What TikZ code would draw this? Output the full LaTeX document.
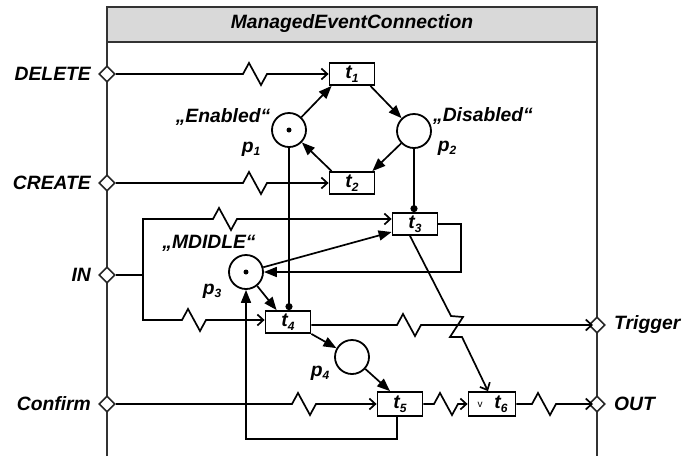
\documentclass[tikz,border=0pt]{standalone}
\usepackage{fontspec}
\setmainfont{Liberation Sans}
\usetikzlibrary{shapes.geometric,arrows.meta}
\newcommand\sbs[1]{\raisebox{-0.35ex}{\fontsize{12}{12}\selectfont #1}}
\def\zz{-- ++(6,-11) -- ++(12,22) -- ++(6,-11)}
\tikzset{
  lbl/.style={font=\bfseries\itshape\fontsize{19.3}{21}\selectfont, inner sep=0pt},
  port/.style={diamond, draw=black!85, fill=white, inner sep=0pt, minimum size=16pt, line width=1.6pt},
  trans/.style={rectangle, draw, fill=white, minimum width=45pt, minimum height=22pt, inner sep=0pt, line width=1.8pt, lbl},
  place/.style={circle, draw, fill=white, minimum size=34pt, inner sep=0pt, line width=1.8pt},
  token/.style={circle, fill=black, minimum size=5pt, inner sep=0pt},
  sig/.style={line width=1.7pt, -{Straight Barb[length=6pt,width=11pt]}},
  parc/.style={line width=1.7pt, -{Triangle[length=13pt,width=10pt]}},
  rd/.style={line width=1.7pt, -{Circle[length=7pt]}},
  frame/.style={line width=1.7pt, draw=black!80}
}
\begin{document}
\begin{tikzpicture}[x=1pt,y=-1pt]
\useasboundingbox (0,0) rectangle (694,456);
% frame
\fill[gray!30] (107,7) rectangle (597,42);
\draw[frame] (107,456) -- (107,7) -- (597,7) -- (597,456);
\draw[frame] (107,42) -- (597,42);
\node[lbl] (title) at (352,24) {ManagedEventConnection};
% ports
\node[port] (delete) at (107,74) {};
\node[port] (create) at (107,183) {};
\node[port] (in) at (107,275) {};
\node[port] (confirm) at (107,404) {};
\node[port] (trigger) at (597,325) {};
\node[port] (out) at (597,404) {};
\node[lbl, anchor=east] (ldelete) at (91,74) {DELETE};
\node[lbl, anchor=east] (lcreate) at (91,183) {CREATE};
\node[lbl, anchor=east] (lin) at (91,275) {IN};
\node[lbl, anchor=east] (lconfirm) at (91,404) {Confirm};
\node[lbl, anchor=west] (ltrigger) at (614,325) {Trigger};
\node[lbl, anchor=west] (lout) at (614,404) {OUT};
% transitions
\node[trans] (t1) at (352,74) {t\sbs{1}};
\node[trans] (t2) at (352,183) {t\sbs{2}};
\node[trans] (t3) at (415,224) {t\sbs{3}};
\node[trans] (t4) at (288,322) {t\sbs{4}};
\node[trans, minimum height=24pt] (t5) at (400,404) {t\sbs{5}};
\node[trans, minimum height=24pt, minimum width=47pt] (t6) at (492,404) {};
\node[font=\fontsize{10}{10}\selectfont, inner sep=0pt] (t6v) at (480,405) {v};
\node[lbl] (t6l) at (501,404) {t\sbs{6}};
% places
\node[place] (p1) at (289,130) {};
\node[place] (p2) at (414,131) {};
\node[place] (p3) at (246,272) {};
\node[place] (p4) at (352,357) {};
\node[token] (k1) at (p1) {};
\node[token] (k3) at (p3) {};
% place labels
\node[lbl] (le) at (223,117) {„Enabled“};
\node[lbl] (lp1) at (251,149) {p\sbs{1}};
\node[lbl] (ld) at (483,116) {„Disabled“};
\node[lbl] (lp2) at (447,148) {p\sbs{2}};
\node[lbl] (lm) at (209,243) {„MDIDLE“};
\node[lbl] (lp3) at (212,291) {p\sbs{3}};
\node[lbl] (lp4) at (320,373) {p\sbs{4}};
% signal arcs
\draw[sig] (delete.east) -- (243,74) \zz -- (t1.west);
\draw[sig] (create.east) -- (243,183) \zz -- (t2.west);
\coordinate (inx) at (143,275);
\draw[line width=1.7pt] (in.east) -- (inx);
\draw[sig] (inx) -- (143,219) -- (213,219) \zz -- ([yshift=5pt]t3.west);
\draw[sig] (inx) -- (143,320) -- (182,320) \zz -- ([yshift=2pt]t4.west);
\draw[sig, shorten >=4pt] ([yshift=-3pt]t4.east) -- (397,325) \zz -- (trigger.center);
\draw[sig] (confirm.east) -- (292,404) \zz -- (t5.west);
\draw[sig] (t5.east) -- (434,404) \zz -- (t6.west);
\draw[sig, shorten >=4pt] (t6.east) -- (532,404) \zz -- (out.center);
\draw[sig] ([xshift=-5pt]t3.south) -- (451,316) -- ++(12,1) -- ++(-13,20) -- ++(12,0) -- ([xshift=-4pt]t6.north);
% place/transition arcs
\draw[parc] (p1) -- ([xshift=3pt]t1.south west);
\draw[parc] ([xshift=-5pt]t1.south east) -- (p2);
\draw[parc] (p2) -- ([xshift=-3pt]t2.north east);
\draw[parc] ([xshift=3pt]t2.north west) -- (p1);
\draw[rd] (p1.south) -- (p1.south |- t4.north);
\draw[rd] (p2.south) -- (p2.south |- t3.north);
\draw[parc] (p3) -- ([yshift=-8pt]t3.west);
\draw[parc] (t3.east) -| (461,272) -- (p3.east);
\draw[parc] (p3) -- ([xshift=12pt]t4.north west);
\draw[parc] (t4.south east) -- (p4);
\draw[parc] (p4) -- ([xshift=-10pt]t5.north);
\draw[parc] ([xshift=-3pt]t5.south) |- (246,439) -- (p3.south);
\end{tikzpicture}
\end{document}
